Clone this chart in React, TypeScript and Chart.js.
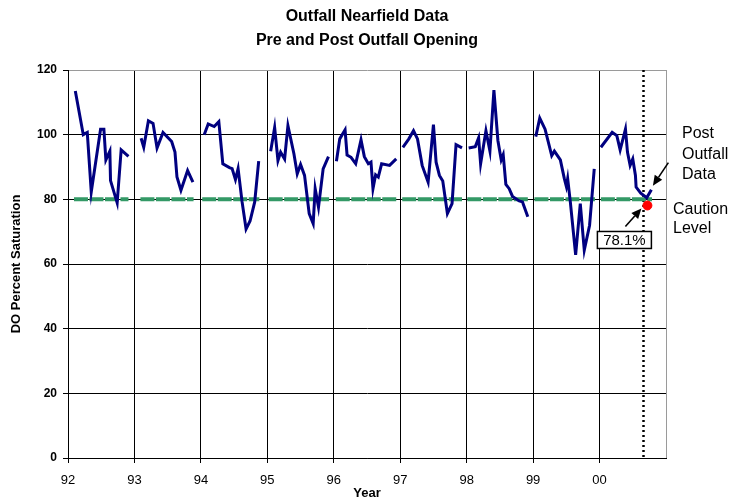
import { useEffect, useRef } from 'react';
import { Chart, registerables } from 'chart.js';

Chart.register(...registerables);

const FONT = "'Liberation Sans', Arial, Helvetica, sans-serif";

const titleLines = ['Outfall Nearfield Data', 'Pre and Post Outfall Opening'];
const yAxisTitle = 'DO Percent Saturation';
const xAxisTitle = 'Year';

const yearTicks = [92, 93, 94, 95, 96, 97, 98, 99, 100, 101];
const yearLabels = ['92', '93', '94', '95', '96', '97', '98', '99', '00', ''];

// survey times (decimal year) and DO % saturation, one row per survey year
const sampleTimes = [
  [92.11, 92.23, 92.29, 92.35, 92.49, 92.54, 92.57, 92.63, 92.64, 92.74, 92.8, 92.91],
  [93.1, 93.14, 93.21, 93.28, 93.34, 93.43, 93.56, 93.61, 93.64, 93.7, 93.8, 93.88],
  [94.05, 94.11, 94.2, 94.27, 94.33, 94.43, 94.47, 94.52, 94.56, 94.62, 94.68, 94.74, 94.81, 94.87],
  [95.05, 95.11, 95.16, 95.2, 95.26, 95.31, 95.4, 95.45, 95.5, 95.56, 95.63, 95.69, 95.72, 95.77, 95.84, 95.92],
  [96.04, 96.09, 96.17, 96.2, 96.26, 96.33, 96.41, 96.46, 96.52, 96.56, 96.59, 96.63, 96.67, 96.72, 96.84, 96.94],
  [97.04, 97.13, 97.2, 97.26, 97.33, 97.42, 97.5, 97.54, 97.59, 97.64, 97.71, 97.78, 97.84, 97.93],
  [98.03, 98.13, 98.18, 98.21, 98.29, 98.35, 98.41, 98.47, 98.52, 98.55, 98.59, 98.64, 98.69, 98.79, 98.84, 98.92],
  [99.04, 99.1, 99.18, 99.28, 99.32, 99.41, 99.47, 99.5, 99.52, 99.56, 99.64, 99.71, 99.77, 99.85, 99.92],
  [100.02, 100.19, 100.26, 100.31, 100.39, 100.42, 100.46, 100.5, 100.54, 100.55, 100.62, 100.71, 100.78],
];
const doValues = [
  [113.5, 100.0, 100.7, 82.3, 101.7, 101.7, 92.2, 94.9, 85.8, 78.9, 95.3, 93.3],
  [98.9, 96.1, 104.3, 103.5, 95.9, 100.7, 97.9, 94.6, 86.9, 82.8, 88.9, 85.3],
  [100.0, 103.3, 102.5, 104.0, 91.0, 89.8, 89.5, 86.1, 89.5, 79.2, 70.8, 73.3, 79.2, 91.8],
  [94.9, 102.2, 92.0, 94.6, 92.5, 102.8, 94.1, 87.9, 90.8, 87.4, 75.6, 72.5, 83.3, 77.6, 89.4, 93.2],
  [91.8, 98.7, 101.5, 93.7, 93.0, 91.0, 98.4, 93.2, 91.0, 91.5, 83.3, 87.6, 86.9, 91.0, 90.5, 92.5],
  [96.1, 98.7, 101.2, 98.7, 90.5, 85.3, 103.1, 91.5, 87.4, 85.7, 75.6, 78.7, 96.9, 95.9],
  [95.9, 96.3, 99.0, 91.0, 101.2, 94.9, 113.8, 98.2, 92.2, 93.8, 84.6, 83.3, 80.9, 79.5, 79.2, 74.6],
  [99.4, 105.1, 101.7, 93.5, 94.9, 92.2, 86.4, 84.0, 86.4, 79.2, 62.8, 78.7, 64.3, 72.0, 89.4],
  [96.1, 100.7, 99.7, 95.3, 101.7, 94.6, 90.5, 92.5, 87.4, 83.8, 81.9, 80.5, 83.0],
];

const cautionLevel = 80;
const cautionStart = [92.09, 93.09, 94.02, 95.02, 96.03, 97.03, 98.01, 99.02, 100.02];
const cautionEnd = [92.91, 93.89, 94.88, 95.93, 96.94, 97.93, 98.94, 99.94, 100.79];

const outfallOpening = 100.65;
const postOutfallTime = 100.72;
const postOutfallValue = 78.1;
const postOutfallLabel = '78.1%';
const postTextLines = ['Post', 'Outfall', 'Data'];
const cautionTextLines = ['Caution', 'Level'];

function drawArrow(ctx: CanvasRenderingContext2D, x1: number, y1: number, x2: number, y2: number) {
  const ang = Math.atan2(y2 - y1, x2 - x1);
  const head = 10;
  const half = 4.5;
  const bx = x2 - head * Math.cos(ang);
  const by = y2 - head * Math.sin(ang);
  ctx.save();
  ctx.strokeStyle = '#000';
  ctx.fillStyle = '#000';
  ctx.lineWidth = 1.6;
  ctx.beginPath();
  ctx.moveTo(x1, y1);
  ctx.lineTo(bx, by);
  ctx.stroke();
  ctx.beginPath();
  ctx.moveTo(x2, y2);
  ctx.lineTo(bx + half * Math.sin(ang), by - half * Math.cos(ang));
  ctx.lineTo(bx - half * Math.sin(ang), by + half * Math.cos(ang));
  ctx.closePath();
  ctx.fill();
  ctx.restore();
}

const overlayPlugin = {
  id: 'overlay',
  beforeDatasetsDraw(chart: any) {
    const { ctx, chartArea, scales } = chart;
    const x = Math.round(scales.x.getPixelForValue(outfallOpening)) + 0.5;
    ctx.save();
    ctx.strokeStyle = '#000';
    ctx.lineWidth = 2.5;
    ctx.setLineDash([2, 3]);
    ctx.beginPath();
    ctx.moveTo(x, chartArea.top);
    ctx.lineTo(x, chartArea.bottom);
    ctx.stroke();
    ctx.restore();
  },
  afterDraw(chart: any) {
    const { ctx, chartArea, scales } = chart;
    ctx.save();
    // title
    ctx.fillStyle = '#000';
    ctx.textAlign = 'center';
    ctx.textBaseline = 'middle';
    ctx.font = `bold 16px ${FONT}`;
    const cx = (chartArea.left + chartArea.right) / 2;
    ctx.fillText(titleLines[0], cx, 17);
    ctx.fillText(titleLines[1], cx, 41);

    // post outfall data annotation
    const lastT = sampleTimes[sampleTimes.length - 1];
    const lastV = doValues[doValues.length - 1];
    const px = scales.x.getPixelForValue(lastT[lastT.length - 1]);
    const py = scales.y.getPixelForValue(lastV[lastV.length - 1]);
    drawArrow(ctx, px + 17, py - 27, px + 1.5, py - 4);
    ctx.font = `16px ${FONT}`;
    ctx.textAlign = 'left';
    postTextLines.forEach((t, i) => ctx.fillText(t, chartArea.right + 16, 134 + i * 20.5));

    // caution level annotation
    cautionTextLines.forEach((t, i) => ctx.fillText(t, chartArea.right + 7, 210 + i * 19));

    const rx = scales.x.getPixelForValue(postOutfallTime);
    const ry = scales.y.getPixelForValue(postOutfallValue);
    drawArrow(ctx, rx - 22, ry + 21, rx - 6, ry + 3);

    // value box
    const bx = rx - 50;
    const by = ry + 26;
    const bw = 54;
    const bh = 17;
    ctx.fillStyle = '#fff';
    ctx.fillRect(bx, by, bw, bh);
    ctx.strokeStyle = '#000';
    ctx.lineWidth = 1.5;
    ctx.strokeRect(bx, by, bw, bh);
    ctx.fillStyle = '#000';
    ctx.textAlign = 'center';
    ctx.font = `15px ${FONT}`;
    ctx.fillText(postOutfallLabel, bx + bw / 2, by + bh / 2 + 0.5);
    ctx.restore();
  },
};

export default function App() {
  const canvasRef = useRef<HTMLCanvasElement | null>(null);

  useEffect(() => {
    document.body.style.margin = '0';
    const canvas = canvasRef.current;
    if (!canvas) return;
    Chart.defaults.font.family = FONT;
    Chart.defaults.color = '#000';

    const datasets: any[] = [];
    datasets.push({
      type: 'scatter',
      data: [{ x: postOutfallTime, y: postOutfallValue }],
      backgroundColor: '#ff0000',
      borderColor: '#ff0000',
      pointRadius: 4.5,
      pointHoverRadius: 4.5,
      showLine: false,
    });
    sampleTimes.forEach((times, i) => {
      datasets.push({
        type: 'line',
        data: times.map((t, j) => ({ x: t, y: doValues[i][j] })),
        borderColor: '#000080',
        borderWidth: 3,
        pointRadius: 0,
        tension: 0,
        fill: false,
      });
    });
    cautionStart.forEach((s, i) => {
      datasets.push({
        type: 'line',
        data: [
          { x: s, y: cautionLevel },
          { x: cautionEnd[i], y: cautionLevel },
        ],
        borderColor: '#339966',
        borderWidth: 4,
        borderDash: [14, 1.5],
        pointRadius: 0,
        fill: false,
      });
    });

    const chart = new Chart(canvas, {
      type: 'line',
      data: { datasets },
      plugins: [overlayPlugin],
      options: {
        responsive: false,
        animation: false,
        events: [],
        layout: { padding: { left: 0, top: 70, right: 80, bottom: 0 } },
        plugins: {
          legend: { display: false },
          tooltip: { enabled: false },
          title: { display: false },
        },
        scales: {
          x: {
            type: 'linear',
            min: 92,
            max: 101,
            afterBuildTicks: (scale: any) => {
              scale.ticks = yearTicks.map((v) => ({ value: v }));
            },
            afterFit: (scale: any) => {
              scale.height = 44;
            },
            ticks: {
              autoSkip: false,
              maxRotation: 0,
              padding: 10,
              color: '#000',
              font: { size: 13 },
              callback: (v: any) => {
                const idx = yearTicks.indexOf(Number(v));
                return idx >= 0 ? yearLabels[idx] : '';
              },
            },
            grid: {
              color: (c: any) => (c.tick && c.tick.value === 101 ? '#9a9a9a' : '#000'),
              tickColor: (c: any) => (c.tick && c.tick.value === 101 ? 'rgba(0,0,0,0)' : '#000'),
              tickLength: 5,
              lineWidth: 1,
            },
            border: { color: '#000', width: 1 },
            title: {
              display: true,
              text: xAxisTitle,
              color: '#000',
              font: { size: 13, weight: 'bold' },
              padding: { top: 0, bottom: 1 },
            },
          },
          y: {
            type: 'linear',
            min: 0,
            max: 120,
            afterFit: (scale: any) => {
              scale.width = 68;
            },
            ticks: {
              stepSize: 20,
              padding: 6,
              color: '#000',
              font: { size: 12, weight: 'bold' },
            },
            grid: {
              color: (c: any) => (c.tick && c.tick.value === 120 ? '#9a9a9a' : '#000'),
              tickColor: '#000',
              tickLength: 5,
              lineWidth: 1,
            },
            border: { color: '#000', width: 1 },
            title: {
              display: true,
              text: yAxisTitle,
              color: '#000',
              font: { size: 13, weight: 'bold' },
              padding: { top: 9, bottom: 0 },
            },
          },
        },
      },
    } as any);

    return () => {
      chart.destroy();
    };
  }, []);

  return (
    <div style={{ width: 746, height: 502 }}>
      <canvas ref={canvasRef} width={746} height={502} style={{ display: 'block', width: 746, height: 502 }} />
    </div>
  );
}
